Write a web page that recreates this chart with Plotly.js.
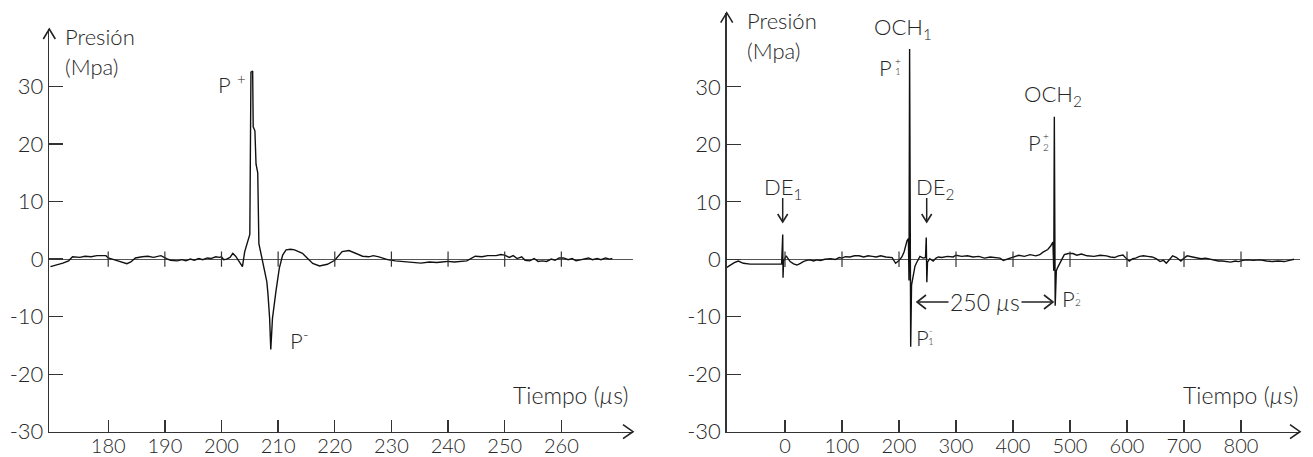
<!DOCTYPE html>
<html>
<head>
<meta charset="utf-8">
<script src="https://cdn.plot.ly/plotly-3.0.1.min.js"></script>
<style>
html,body{margin:0;padding:0;background:#fff;}
#chart{width:1313px;height:457px;}
</style>
</head>
<body>
<div id="chart"></div>
<script>
// ---- Data ----
const leftTime = [169.8,171,172,173,173.7,175,175.9,177,178,179.6,180,181,181.9,183.3,184,184.8,186,187,188,189.3,190.4,191,192.2,193,193.7,194.5,195.2,196,196.7,197.5,198.1,199,199.6,200,200.4,200.9,201.5,202,202.5,203,203.7,204.1,204.7,205.0,205.2,205.5,205.6,205.9,206.1,206.4,206.6,207.2,207.6,208.0,208.2,208.5,208.7,209.0,209.6,210.2,210.8,211.4,212.2,212.9,214.3,215.2,216.1,217.3,218.7,220,221.3,222.5,223.7,224.9,226,226.8,227.8,229.3,230.7,232,233,234,235.2,236.7,238,238.9,240,241.1,242,243.3,244.8,246,247,248.5,249.3,250,250.8,251.5,252.2,253,253.6,254.4,255.2,255.9,256.6,257.4,258.2,258.9,259.6,260.4,261.2,261.9,262.6,263.3,264,264.8,265.5,266.3,267,267.8,268.5,269];
const leftPressure = [-1.3,-1.0,-0.7,-0.3,0.4,0.3,0.5,0.4,0.6,0.6,0.2,-0.1,-0.4,-0.8,-0.5,0.2,0.4,0.5,0.3,0.6,0.05,-0.2,-0.3,-0.1,-0.3,0.0,-0.2,0.1,-0.1,0.2,0.1,0.4,0.3,0.4,-0.1,0.0,0.3,1.0,0.5,-0.3,-1.3,1.3,3.6,4.3,32.5,32.7,23.0,22.3,16.5,15.0,2.7,0.1,-2.2,-3.9,-6.0,-10.3,-15.7,-10.3,-5.7,-1.6,0.7,1.6,1.7,1.6,1.0,0.2,-0.75,-1.2,-0.9,-0.2,1.3,1.5,1.0,0.5,0.4,0.6,0.4,-0.1,-0.3,-0.4,-0.5,-0.6,-0.7,-0.5,-0.6,-0.5,-0.4,-0.5,-0.4,-0.3,0.5,0.4,0.6,0.6,0.8,0.7,0.3,0.6,0.1,0.4,-0.2,-0.3,0.1,-0.4,-0.3,-0.4,0.0,-0.2,0.2,0.2,-0.1,0.1,-0.3,-0.1,0.1,0.2,-0.1,0.1,-0.1,0.2,0.0,0.1];

const rightTime = [-102,-96,-89,-82,-77,-73,-61,-40,-20,-6,-4,-3.5,-2.5,2,9,15,21,27,32,38,44,50,56,62,70,80,88,95,100,106,114,122,130,138,146,153,160,168,177,188,194,200,205,209,214,216.5,217.5,218.6,220.5,222,225,228,230.8,236.7,242.5,246.5,247.8,248.8,250,254,260,265,269,275,285,295,300,310,320,330,340,350,360,370,377,383,390,400,410,420,430,440,447,452,461,466,470,471.5,472.5,474,476,478,484,490,497,505,512,520,530,542,553,564,571,578,585,593,598,604,610,615,622,629,636,644,651,658,664,669,675,680,687,694.5,700,705.5,715,723.6,730,738,745,753,760,767,775,782,790,796,803,811,822,833,845,855,865,876,885,893];
const rightPressure = [-1.4,-1.0,-0.6,-0.3,-0.5,-0.7,-0.85,-0.9,-0.9,-0.85,4.3,-3.2,-0.4,0.6,-0.4,-0.8,-1.0,-0.7,-0.4,-0.2,-0.1,-0.3,-0.1,-0.2,0.0,0.1,-0.05,0.3,0.2,0.45,0.4,0.6,0.6,0.4,0.6,0.5,0.4,0.6,0.4,0.3,-0.7,-0.2,0.4,1.3,3.2,3.6,-3.7,36.6,-15.2,-4.5,-2.6,-1.2,-0.6,0.5,0.2,0.3,3.8,-4.0,-0.5,0.1,-0.3,0.2,0.4,0.3,0.5,0.4,0.7,0.5,0.6,0.4,0.5,0.2,0.4,0.3,0.2,-0.2,0.0,0.3,0.7,0.5,0.8,0.6,0.8,1.2,1.7,2.3,3.0,-2.0,24.8,-8.1,-2.0,-1.5,-0.4,0.8,1.0,1.0,0.7,0.9,0.6,0.5,0.7,0.6,0.4,0.3,0.6,0.75,0.2,-0.3,0.1,0.2,0.5,0.6,0.5,0.4,0.1,-0.4,-0.2,-0.7,0.0,0.6,0.3,-0.3,0.2,0.6,0.4,0.3,0.1,0.2,0.0,-0.1,-0.3,-0.3,-0.4,-0.5,-0.3,-0.4,-0.2,-0.1,-0.2,-0.1,-0.3,-0.4,-0.3,-0.4,-0.2,0.0];

const leftTicks = [180,190,200,210,220,230,240,250,260];
const rightTicks = [0,100,200,300,400,500,600,700,800];
const pressureTicks = [-30,-20,-10,0,10,20,30];

// ---- Layout helpers ----
const W = 1313, H = 457;
const PX = x => x / W;
const PY = y => 1 - y / H;
const FONT = 'Lato, "Open Sans", "DejaVu Sans", sans-serif';
const INK = '#262626';
const WEIGHT = 300;

const traces = [
  {x: leftTime, y: leftPressure, xaxis: 'x', yaxis: 'y', mode: 'lines', line: {color: '#111', width: 1.4}},
  {x: rightTime, y: rightPressure, xaxis: 'x2', yaxis: 'y2', mode: 'lines', line: {color: '#111', width: 1.4}},
  {x: leftTicks, y: leftTicks.map(() => 0), xaxis: 'x', yaxis: 'y', mode: 'markers',
   marker: {symbol: 'line-ns-open', size: 11, color: '#333', line: {color: '#333', width: 1.2}}},
  {x: rightTicks, y: rightTicks.map(() => 0), xaxis: 'x2', yaxis: 'y2', mode: 'markers',
   marker: {symbol: 'line-ns-open', size: 11, color: '#333', line: {color: '#333', width: 1.2}}}
];

function xax(domain, range, ticks, anchor) {
  return {domain, range, tickvals: ticks, ticktext: ticks.map(String), ticks: 'inside', ticklen: 12,
    tickwidth: 1.3, tickcolor: '#333', showline: true, linecolor: '#333', linewidth: 1.5,
    showgrid: false, zeroline: false, anchor, automargin: false, fixedrange: true,
    ticklabelstandoff: -4,
    tickfont: {family: FONT, size: 20, color: INK, weight: WEIGHT}};
}
function yax(domain, range, anchor) {
  return {domain, range, tickvals: pressureTicks, ticktext: pressureTicks.map(String), ticks: 'inside', ticklen: 14,
    tickwidth: 1.3, tickcolor: '#333', showline: true, linecolor: '#333', linewidth: 1.5,
    showgrid: false, zeroline: true, zerolinecolor: '#555', zerolinewidth: 1, anchor,
    automargin: false, fixedrange: true, tickfont: {family: FONT, size: 22, color: INK, weight: WEIGHT}};
}

function txt(text, x, y, size, opts) {
  return Object.assign({text, x: PX(x), y: PY(y), xref: 'paper', yref: 'paper', showarrow: false,
    xanchor: 'center', yanchor: 'middle', font: {family: FONT, size: size || 22, color: INK, weight: WEIGHT}}, opts || {});
}
function chevron(x, y, path) {
  return {type: 'path', xref: 'paper', yref: 'paper', xsizemode: 'pixel', ysizemode: 'pixel',
    xanchor: PX(x), yanchor: PY(y), path, line: {color: '#222', width: 1.6}};
}
function seg(x0, y0, x1, y1) {
  return {type: 'line', xref: 'paper', yref: 'paper', x0: PX(x0), y0: PY(y0), x1: PX(x1), y1: PY(y1),
    line: {color: '#222', width: 1.5}};
}

const annotations = [
  // left panel
  txt('Presión', 63, 36, 22, {xanchor: 'left'}),
  txt('(Mpa)', 63, 66, 22, {xanchor: 'left'}),
  txt('P', 225, 84, 22),
  txt('+', 241, 79, 15),
  txt('P', 296, 340, 22),
  txt('-', 306, 334, 15),
  txt('Tiempo (<i>µ</i>s)', 630, 395, 23, {xanchor: 'right'}),
  // right panel
  txt('Presión', 745, 21, 22, {xanchor: 'left'}),
  txt('(Mpa)', 745, 50, 22, {xanchor: 'left'}),
  txt('OCH<sub>1</sub>', 903, 28, 22),
  txt('P', 885, 67, 22),
  txt('+', 898, 61, 10),
  txt('1', 898, 71, 10),
  txt('DE<sub>1</sub>', 783, 188, 22),
  txt('DE<sub>2</sub>', 935, 188, 22),
  txt('OCH<sub>2</sub>', 1053, 95, 22),
  txt('P', 1034, 142, 22),
  txt('+', 1046, 136, 10),
  txt('2', 1046, 147, 10),
  txt('P', 922, 337, 22),
  txt('-', 931, 330, 10),
  txt('1', 931, 341, 10),
  txt('P', 1068, 298, 22),
  txt('-', 1078, 292, 10),
  txt('2', 1078, 302, 10),
  txt('250 <i>µ</i>s', 985, 302, 23, {bgcolor: '#fff'}),
  txt('Tiempo (<i>µ</i>s)', 1300, 395, 23, {xanchor: 'right'})
];

const shapes = [
  // axis arrowheads
  chevron(49.3, 29, 'M-6,-10 L0,0 L6,-10'),
  chevron(633, 431.7, 'M-10,7 L0,0 L-10,-7'),
  chevron(726.7, 12.7, 'M-6,-10 L0,0 L6,-10'),
  chevron(1300, 431.7, 'M-10,7 L0,0 L-10,-7'),
  // DE arrows
  seg(782.7, 198, 782.7, 222),
  chevron(782.7, 222, 'M-5,8 L0,0 L5,8'),
  seg(926.7, 198, 926.7, 222),
  chevron(926.7, 222, 'M-5,8 L0,0 L5,8'),
  // 250 us interval arrow
  seg(917, 302, 1053, 302),
  chevron(917, 302, 'M9,7 L0,0 L9,-7'),
  chevron(1053, 302, 'M-9,7 L0,0 L-9,-7')
];

const layout = {
  width: W, height: H,
  margin: {l: 0, r: 0, t: 0, b: 0},
  paper_bgcolor: '#fff', plot_bgcolor: 'rgba(0,0,0,0)',
  showlegend: false, hovermode: false,
  font: {family: FONT, color: INK},
  xaxis: xax([49.3 / W, 633 / W], [169.6, 272.65], leftTicks, 'y'),
  yaxis: yax([1 - 431.7 / H, 1 - 29 / H], [-30, 40], 'x'),
  xaxis2: xax([726.7 / W, 1300 / W], [-102.3, 903.5], rightTicks, 'y2'),
  yaxis2: yax([1 - 431.7 / H, 1 - 12.7 / H], [-30, 42.9], 'x2'),
  annotations, shapes
};

Plotly.newPlot('chart', traces, layout, {staticPlot: true, displayModeBar: false});
</script>
</body>
</html>
